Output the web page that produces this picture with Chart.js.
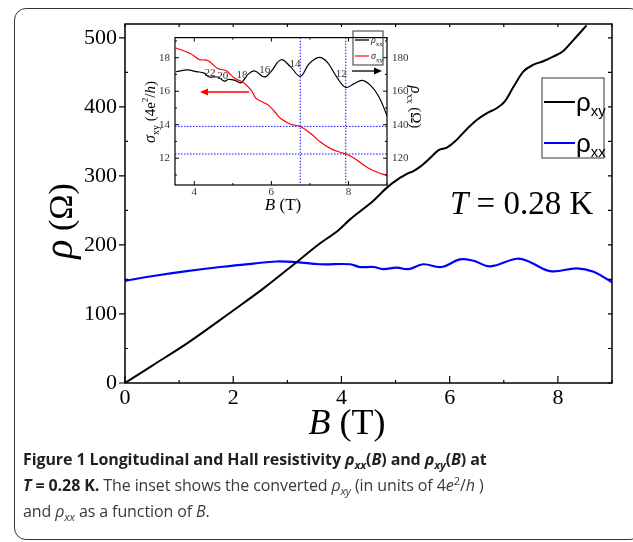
<!DOCTYPE html>
<html>
<head>
<meta charset="utf-8">
<script src="https://cdn.jsdelivr.net/npm/chart.js@4.4.1/dist/chart.umd.min.js"></script>
<style>
  html, body { margin: 0; padding: 0; background: #fff; }
  body { width: 633px; height: 542px; position: relative; overflow: hidden; }
  #frame { position: absolute; left: 14px; top: 8px; width: 626px; height: 530px; border: 1.5px solid #333; border-radius: 12px; }
  #mainChart { position: absolute; left: 0; top: 0; }
  #insetChart { position: absolute; left: 130px; top: 26px; }
  #caption { position: absolute; left: 23px; top: 446px; width: 605px; font-family: "Open Sans"; font-size: 16px; line-height: 26px; color: #3a3a3a; letter-spacing: -0.1px; }
  #caption b { color: #231f20; }
  #caption sub, #caption sup { font-size: 70%; line-height: 0; }
</style>
</head>
<body>
<div id="frame"></div>
<canvas id="mainChart" width="633" height="450"></canvas>
<canvas id="insetChart" width="300" height="195"></canvas>
<div id="caption"><b>Figure 1 Longitudinal and Hall resistivity <i>ρ<sub>xx</sub></i>(<i>B</i>) and <i>ρ<sub>xy</sub></i>(<i>B</i>) at<br><i>T</i> = 0.28 K.</b> The inset shows the converted <i>ρ<sub>xy</sub></i> (in units of 4<i>e</i><sup>2</sup>/<i>h</i> )<br>and <i>ρ<sub>xx</sub></i> as a function of <i>B</i>.</div>
<script>
// main panel, values (B in T, rho in Ohm)
const bXY = [0, 0.52, 1.14, 2.0, 2.56, 3.17, 3.6, 3.94, 4.16, 4.59, 4.84, 5.08, 5.21, 5.33, 5.45, 5.64, 5.79, 5.95, 6.1, 6.32, 6.5, 6.69, 6.87, 7.02, 7.18, 7.36, 7.55, 7.73, 7.92, 8.1, 8.29, 8.53];
const rhoXY = [0, 26, 57, 105, 137, 175, 202, 221, 237, 264, 283, 297, 303, 307, 313, 326, 337, 341, 350, 368, 381, 391, 398, 408, 429, 451, 461, 466, 473, 481, 497, 518];
const bXX = [0, 0.52, 1.14, 1.76, 2.37, 2.8, 3.17, 3.6, 4.16, 4.34, 4.59, 4.77, 5.02, 5.24, 5.51, 5.85, 6.19, 6.44, 6.75, 7.24, 7.49, 7.86, 8.35, 8.66, 9.0];
const rhoXX = [148, 155, 162, 168, 173, 176, 175, 172, 172, 168, 168, 165, 167, 165, 172, 168, 179, 177, 169, 180, 175, 162, 166, 161, 146];
const xTicks = [0, 2, 4, 6, 8];
const yTicks = [0, 100, 200, 300, 400, 500];

// inset: sigma_xy in 4e^2/h (left axis), rho_xx in Ohm (right axis)
const insetBSigma = [3.53, 3.91, 4.13, 4.35, 4.61, 4.82, 5.04, 5.3, 5.51, 5.6, 5.9, 6.07, 6.25, 6.5, 6.75, 7.02, 7.28, 7.54, 7.8, 7.93, 8.15, 8.49, 8.75, 9.0];
const sigmaXY = [18.58, 18.24, 17.89, 17.83, 17.36, 17.23, 16.79, 16.48, 15.95, 15.58, 15.2, 14.82, 14.35, 14.03, 13.89, 13.47, 12.95, 12.57, 12.34, 12.25, 12.0, 11.44, 11.16, 10.97];
const insetBRho = [3.53, 3.83, 4.05, 4.26, 4.39, 4.61, 4.78, 4.88, 5.04, 5.21, 5.39, 5.56, 5.82, 5.99, 6.25, 6.5, 6.75, 6.98, 7.24, 7.45, 7.71, 7.93, 8.15, 8.36, 8.58, 8.79, 9.0];
const insetRhoXX = [171.7, 172.7, 171.7, 170.8, 168.5, 168.5, 166, 167, 166.6, 165.1, 169.9, 172.1, 168.5, 171.7, 178.8, 174.5, 168.9, 176.4, 180.2, 177.3, 168, 162.3, 164.5, 166.5, 163.3, 156.7, 145.4];
const insetXTicks = [4, 6, 8];
const insetYTicks = [12, 14, 16, 18];
const insetY2Ticks = [120, 140, 160, 180];
// filling factors marked on the rho_xx curve
const nuLabels = ['22', '20', '18', '16', '14', '12'];
const nuB = [4.41, 4.74, 5.24, 5.83, 6.61, 7.81];
const nuRho = [170.8, 168.9, 169.5, 172.8, 176.2, 170];
// dotted guide lines
const markB = [6.75, 7.93];
const markSigma = [13.9, 12.25];

const SERIF = '"Liberation Serif", "DejaVu Serif", serif';
const SANS = '"Liberation Sans", Arial, sans-serif';

function pts(xs, ys) {
    return xs.map((v, i) => ({ x: v, y: ys[i] }));
}

// draws a run of text pieces [text, font, dy] one after the other
function drawRich(ctx, parts, x, y, align) {
    let w = 0;
    parts.forEach(p => { ctx.font = p[1]; w += ctx.measureText(p[0]).width; });
    let cx = align === 'center' ? x - w / 2 : x;
    parts.forEach(p => {
        ctx.font = p[1];
        ctx.fillText(p[0], cx, y + (p[2] || 0));
        cx += ctx.measureText(p[0]).width;
    });
}

function arrow(ctx, x1, y1, x2, y2, color) {
    const dir = Math.sign(x2 - x1);
    ctx.strokeStyle = color; ctx.fillStyle = color; ctx.lineWidth = 1.3;
    ctx.beginPath(); ctx.moveTo(x1, y1); ctx.lineTo(x2 - dir * 6, y2); ctx.stroke();
    ctx.beginPath(); ctx.moveTo(x2, y2); ctx.lineTo(x2 - dir * 8, y2 - 3.5); ctx.lineTo(x2 - dir * 8, y2 + 3.5); ctx.closePath(); ctx.fill();
}

const mainDecor = {
    id: 'mainDecor',
    afterDraw(chart) {
        const { ctx, chartArea: a, scales: { x, y } } = chart;
        ctx.save();
        ctx.strokeStyle = '#000';
        ctx.lineWidth = 1.5;
        ctx.strokeRect(a.left, a.top, a.right - a.left, a.bottom - a.top);

        // tick marks
        ctx.lineWidth = 1.2;
        ctx.beginPath();
        for (let v = 0; v <= 9; v++) {
            const px = x.getPixelForValue(v);
            const len = v % 2 === 0 ? 7 : 3;
            ctx.moveTo(px, a.bottom); ctx.lineTo(px, a.bottom - len);
            ctx.moveTo(px, a.top); ctx.lineTo(px, a.top + 3);
        }
        for (let v = 0; v <= 500; v += 50) {
            const py = y.getPixelForValue(v);
            if (v % 100 === 0) { ctx.moveTo(a.left, py); ctx.lineTo(a.left - 6, py); }
            else { ctx.moveTo(a.left, py); ctx.lineTo(a.left + 3, py); }
            ctx.moveTo(a.right, py); ctx.lineTo(a.right - 4, py);
        }
        ctx.stroke();

        // axis titles
        ctx.fillStyle = '#000';
        ctx.textBaseline = 'alphabetic';
        drawRich(ctx, [['B', 'italic 36px ' + SERIF], [' (T)', '36px ' + SERIF]], 347, 434, 'center');
        ctx.save();
        ctx.translate(72, 221);
        ctx.rotate(-Math.PI / 2);
        drawRich(ctx, [['ρ', 'italic 40px ' + SERIF], [' (Ω)', '34px ' + SERIF]], 0, 0, 'center');
        ctx.restore();

        drawRich(ctx, [['T', 'italic 33px ' + SERIF], [' = 0.28 K', '33px ' + SERIF]], 450, 214, 'left');

        // legend
        ctx.strokeStyle = '#333'; ctx.lineWidth = 1;
        ctx.strokeRect(542, 78, 62, 80);
        const items = [['xy', '#000', 102], ['xx', '#0000ff', 143]];
        items.forEach(it => {
            ctx.strokeStyle = it[1]; ctx.lineWidth = 2;
            ctx.beginPath(); ctx.moveTo(544, it[2]); ctx.lineTo(575, it[2]); ctx.stroke();
            ctx.fillStyle = '#000';
            drawRich(ctx, [['ρ', '26px ' + SANS], [it[0], '15px ' + SANS, 5]], 576, it[2] + 9, 'left');
        });
        ctx.restore();
    }
};

const insetDecor = {
    id: 'insetDecor',
    beforeDraw(chart) {
        const { ctx, chartArea: a } = chart;
        ctx.save();
        ctx.fillStyle = '#fff';
        ctx.fillRect(a.left, a.top, a.right - a.left, a.bottom - a.top);
        ctx.restore();
    },
    beforeDatasetsDraw(chart) {
        const { ctx, chartArea: a, scales: { x, y } } = chart;
        ctx.save();
        ctx.strokeStyle = '#1010ff';
        ctx.lineWidth = 1;
        ctx.setLineDash([1.5, 1.5]);
        ctx.beginPath();
        markB.forEach(b => { const px = x.getPixelForValue(b); ctx.moveTo(px, a.top); ctx.lineTo(px, a.bottom); });
        markSigma.forEach(s => { const py = y.getPixelForValue(s); ctx.moveTo(a.left, py); ctx.lineTo(a.right, py); });
        ctx.stroke();
        ctx.restore();
    },
    afterDraw(chart) {
        const { ctx, chartArea: a, scales: { x, y, y2 } } = chart;
        ctx.save();
        ctx.strokeStyle = '#000';
        ctx.lineWidth = 1.2;
        ctx.strokeRect(a.left, a.top, a.right - a.left, a.bottom - a.top);

        ctx.lineWidth = 1;
        ctx.beginPath();
        for (let v = 4; v <= 9; v++) {
            const px = x.getPixelForValue(v);
            const len = v % 2 === 0 ? 4 : 2;
            ctx.moveTo(px, a.bottom); ctx.lineTo(px, a.bottom - len);
            ctx.moveTo(px, a.top); ctx.lineTo(px, a.top + len);
        }
        for (let v = 11; v <= 19; v++) {
            const py = y.getPixelForValue(v);
            ctx.moveTo(a.left, py); ctx.lineTo(a.left + (v % 2 === 0 ? 4 : 2), py);
        }
        for (let v = 110; v <= 190; v += 10) {
            const py = y2.getPixelForValue(v);
            ctx.moveTo(a.right, py); ctx.lineTo(a.right - (v % 20 === 0 ? 4 : 2), py);
        }
        ctx.stroke();

        // filling factor labels
        ctx.fillStyle = '#333';
        ctx.font = '11px ' + SERIF;
        ctx.textAlign = 'center';
        ctx.textBaseline = 'middle';
        nuLabels.forEach((t, i) => ctx.fillText(t, x.getPixelForValue(nuB[i]), y2.getPixelForValue(nuRho[i])));
        ctx.textAlign = 'left';
        ctx.textBaseline = 'alphabetic';

        // axis titles
        ctx.fillStyle = '#000';
        drawRich(ctx, [['B', 'italic 17px ' + SERIF], [' (T)', '17px ' + SERIF]], 153, 184, 'center');
        ctx.save();
        ctx.translate(25, 86);
        ctx.rotate(-Math.PI / 2);
        drawRich(ctx, [['σ', 'italic 16px ' + SERIF], ['xy', '10px ' + SERIF, 4], [' (4e', '15px ' + SERIF], ['2', '9px ' + SERIF, -7], ['/', '15px ' + SERIF], ['h', 'italic 15px ' + SERIF], [')', '15px ' + SERIF]], 0, 0, 'center');
        ctx.restore();
        ctx.save();
        ctx.translate(281, 81);
        ctx.rotate(Math.PI / 2);
        drawRich(ctx, [['ρ', 'italic 16px ' + SERIF], ['xx', '10px ' + SERIF, 4], [' (Ω)', '15px ' + SERIF]], 0, 0, 'center');
        ctx.restore();

        // legend
        ctx.strokeStyle = '#333'; ctx.lineWidth = 1;
        ctx.strokeRect(223, 5, 30, 34);
        [['ρ', '#000', 14], ['σ', '#ff2020', 30]].forEach(it => {
            ctx.strokeStyle = it[1]; ctx.lineWidth = 1.3;
            ctx.beginPath(); ctx.moveTo(225, it[2]); ctx.lineTo(239, it[2]); ctx.stroke();
            ctx.fillStyle = '#222';
            drawRich(ctx, [[it[0], 'italic 10px ' + SERIF], [it[0] === 'ρ' ? 'xx' : 'xy', '7px ' + SERIF, 3]], 241, it[2] + 3, 'left');
        });

        arrow(ctx, 222, 45, 252, 45, '#000');
        arrow(ctx, 119, 66, 70, 66, '#ff0000');
        ctx.restore();
    }
};

const mainChart = new Chart(document.getElementById('mainChart'), {
    type: 'scatter',
    data: {
        datasets: [{
            label: 'ρxy',
            data: pts(bXY, rhoXY),
            showLine: true,
            borderColor: '#000',
            borderWidth: 2,
            pointRadius: 0,
            cubicInterpolationMode: 'monotone'
        }, {
            label: 'ρxx',
            data: pts(bXX, rhoXX),
            showLine: true,
            borderColor: '#0000ff',
            borderWidth: 2.2,
            pointRadius: 0,
            tension: 0.4
        }]
    },
    options: {
        responsive: false,
        animation: false,
        layout: { padding: { top: 24, right: 21, left: 0, bottom: 0 } },
        plugins: { legend: { display: false }, tooltip: { enabled: false } },
        scales: {
            x: {
                type: 'linear', min: 0, max: 9,
                afterBuildTicks: s => { s.ticks = xTicks.map(v => ({ value: v })); },
                afterFit: s => { s.height = 67; },
                grid: { display: false, drawTicks: false },
                border: { display: false },
                ticks: { font: { family: SERIF, size: 22 }, color: '#000', padding: 2, maxRotation: 0 }
            },
            y: {
                type: 'linear', min: 0, max: 520,
                afterBuildTicks: s => { s.ticks = yTicks.map(v => ({ value: v })); },
                afterFit: s => { s.width = 125; },
                grid: { display: false, drawTicks: false },
                border: { display: false },
                ticks: { font: { family: SERIF, size: 22 }, color: '#000', padding: 8 }
            }
        }
    },
    plugins: [mainDecor]
});

const insetChart = new Chart(document.getElementById('insetChart'), {
    type: 'scatter',
    data: {
        datasets: [{
            label: 'σxy',
            data: pts(insetBSigma, sigmaXY),
            yAxisID: 'y',
            showLine: true,
            borderColor: '#ff0000',
            borderWidth: 1.2,
            pointRadius: 0,
            tension: 0.4
        }, {
            label: 'ρxx',
            data: pts(insetBRho, insetRhoXX),
            yAxisID: 'y2',
            showLine: true,
            borderColor: '#000',
            borderWidth: 1.2,
            pointRadius: 0,
            tension: 0.4
        }]
    },
    options: {
        responsive: false,
        animation: false,
        layout: { padding: { top: 3, right: 0, left: 0, bottom: 0 } },
        plugins: { legend: { display: false }, tooltip: { enabled: false } },
        scales: {
            x: {
                type: 'linear', min: 3.5, max: 9,
                afterBuildTicks: s => { s.ticks = insetXTicks.map(v => ({ value: v })); },
                afterFit: s => { s.height = 36; },
                grid: { display: false, drawTicks: false },
                border: { display: false },
                ticks: { font: { family: SERIF, size: 11 }, color: '#333', padding: 1, maxRotation: 0 }
            },
            y: {
                type: 'linear', position: 'left', min: 10.4, max: 19.2,
                afterBuildTicks: s => { s.ticks = insetYTicks.map(v => ({ value: v })); },
                afterFit: s => { s.width = 45; },
                grid: { display: false, drawTicks: false },
                border: { display: false },
                ticks: { font: { family: SERIF, size: 11 }, color: '#333', padding: 5 }
            },
            y2: {
                type: 'linear', position: 'right', min: 104, max: 192,
                afterBuildTicks: s => { s.ticks = insetY2Ticks.map(v => ({ value: v })); },
                afterFit: s => { s.width = 43; },
                grid: { display: false, drawTicks: false },
                border: { display: false },
                ticks: { font: { family: SERIF, size: 11 }, color: '#333', padding: 5 }
            }
        }
    },
    plugins: [insetDecor]
});
</script>
</body>
</html>
